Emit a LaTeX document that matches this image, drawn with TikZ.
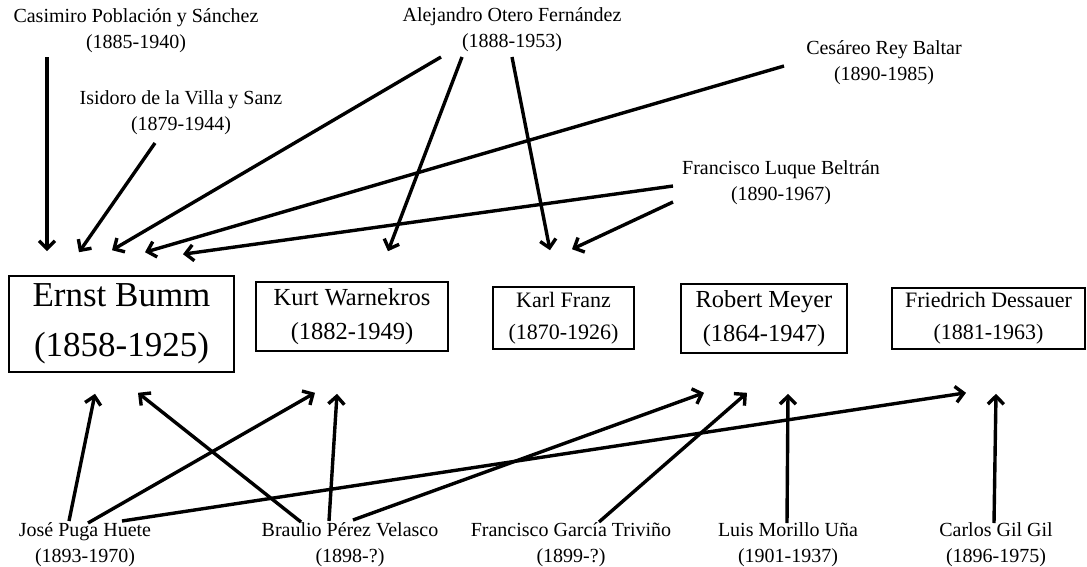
\documentclass[tikz,border=0pt]{standalone}
\usepackage{fontspec}
\setmainfont{Liberation Serif}
\usetikzlibrary{arrows.meta,positioning}

\begin{document}
\begin{tikzpicture}
  [x=1pt,y=-1pt,
   person/.style={align=center,inner sep=0pt,font=\fontsize{20}{26}\selectfont},
   box/.style={draw,line width=1.6pt,align=center,inner sep=0pt},
   big box/.style={box,font=\fontsize{35}{50}\selectfont},
   mid box/.style={box,font=\fontsize{24.5}{34}\selectfont},
   small box/.style={box,font=\fontsize{22}{32}\selectfont},
   arr/.style={line width=3.4pt,-{Straight Barb[length=8pt,width=16pt]}}]

  \useasboundingbox (0,0) rectangle (1087,566);

  % disciples (top row)
  \node [person] (cas) at (136,31)  {Casimiro Población y Sánchez\\(1885-1940)};
  \node [person] (isi) at (181,113) {Isidoro de la Villa y Sanz\\(1879-1944)};
  \node [person] (ale) at (512,30)  {Alejandro Otero Fernández\\(1888-1953)};
  \node [person] (ces) at (884,63)  {Cesáreo Rey Baltar\\(1890-1985)};
  \node [person] (flu) at (781,183) {Francisco Luque Beltrán\\(1890-1967)};

  % German masters
  \node [big box,minimum width=225,minimum height=96]   (bumm)  at (121.5,324)  {Ernst Bumm\\(1858-1925)};
  \node [mid box,minimum width=192,minimum height=69]   (kurt)  at (352,316.5)  {Kurt Warnekros\\(1882-1949)};
  \node [small box,minimum width=141,minimum height=62] (franz) at (563.5,318)  {Karl Franz\\(1870-1926)};
  \node [mid box,minimum width=166,minimum height=69]   (meyer) at (764,318.5)  {Robert Meyer\\(1864-1947)};
  \node [small box,minimum width=193,minimum height=61] (dess)  at (988.5,318.5) {Friedrich Dessauer\\(1881-1963)};

  % disciples (bottom row)
  \node [person] (jose)    at (85,545)  {José Puga Huete\\(1893-1970)};
  \node [person] (braulio) at (350,545) {Braulio Pérez Velasco\\(1898-?)};
  \node [person] (garcia)  at (571,545) {Francisco García Triviño\\(1899-?)};
  \node [person] (luis)    at (788,545) {Luis Morillo Uña\\(1901-1937)};
  \node [person] (carlos)  at (996,545) {Carlos Gil Gil\\(1896-1975)};

  % top arrows
  \draw [arr] ([shift={(-89,26)}]cas.center)   -- ([shift={(-74.5,-24)}]bumm.north);
  \draw [arr] ([shift={(-26,30)}]isi.center)   -- ([shift={(-42.5,-23)}]bumm.north);
  \draw [arr] ([shift={(-71,27)}]ale.center)   -- ([shift={(-9.5,-25)}]bumm.north);
  \draw [arr] ([shift={(-100,3)}]ces.center)   -- ([shift={(23.5,-23)}]bumm.north);
  \draw [arr] ([shift={(-108,3)}]flu.center)   -- ([shift={(61.5,-21)}]bumm.north);
  \draw [arr] ([shift={(-50,27)}]ale.center)   -- ([shift={(36,-30)}]kurt.north);
  \draw [arr] ([shift={(0,27)}]ale.center)     -- ([shift={(-13.5,-36)}]franz.north);
  \draw [arr] ([shift={(-108,19)}]flu.center)  -- ([shift={(8.5,-37)}]franz.north);

  % bottom arrows
  \draw [arr] ([shift={(-16,-24)}]jose.center)   -- ([shift={(-26.5,21)}]bumm.south);
  \draw [arr] ([shift={(3,-22)}]jose.center)     -- ([shift={(-37,41)}]kurt.south);
  \draw [arr] ([shift={(37,-24)}]jose.center)    -- ([shift={(-22.5,43)}]dess.south);
  \draw [arr] ([shift={(-49,-23)}]braulio.center) -- ([shift={(16.5,20)}]bumm.south);
  \draw [arr] ([shift={(-21,-24)}]braulio.center) -- ([shift={(-15,42)}]kurt.south);
  \draw [arr] ([shift={(3,-25)}]braulio.center)  -- ([shift={(-60,39)}]meyer.south);
  \draw [arr] ([shift={(28,-23)}]garcia.center)  -- ([shift={(-17,39)}]meyer.south);
  \draw [arr] ([shift={(-1,-22)}]luis.center)    -- ([shift={(24,40)}]meyer.south);
  \draw [arr] ([shift={(-2,-22)}]carlos.center)  -- ([shift={(7.5,44)}]dess.south);

\end{tikzpicture}
\end{document}
